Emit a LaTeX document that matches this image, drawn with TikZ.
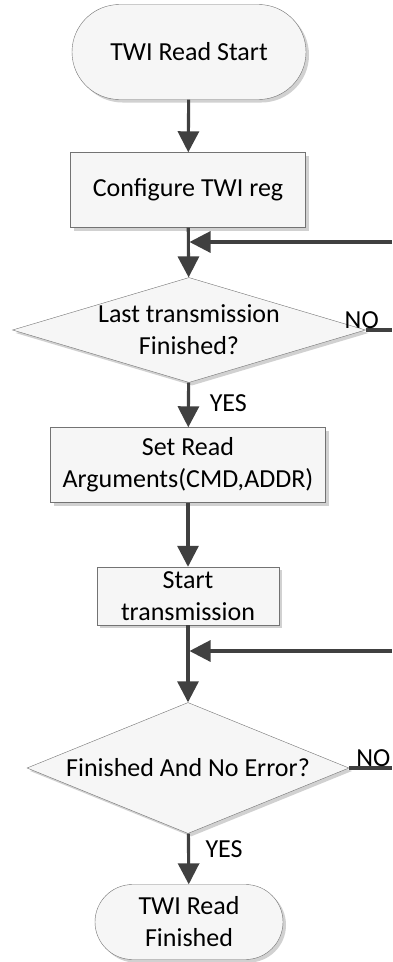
\documentclass[tikz,border=0pt]{standalone}
\usepackage{fontspec}
\setmainfont{Carlito}
\usetikzlibrary{shapes.geometric,shapes.misc,arrows.meta,shadows,calc}

\begin{document}
\begin{tikzpicture}[x=1pt, y=-1pt,
    chartbox/.style={draw=black!55, fill=gray!7, inner sep=0pt, align=center,
        font=\fontsize{26}{32}\selectfont,
        drop shadow={shadow xshift=3pt, shadow yshift=-3pt, fill=black!18, opacity=1}},
    term/.style={chartbox, rounded rectangle, minimum width=#1},
    proc/.style={chartbox, rectangle, minimum width=#1},
    cond/.style={chartbox, diamond, minimum width=#1},
    inside/.style={align=center, font=\fontsize{26}{32}\selectfont, inner sep=0pt},
    flow/.style={draw=black!75, line width=3.1pt, -{Triangle[length=21pt, width=21pt]}},
    link/.style={draw=black!75, line width=3.1pt},
    tag/.style={font=\fontsize{26}{30}\selectfont, inner sep=1pt}
]
\useasboundingbox (0,0) rectangle (392,962);
% boxes
\node[term=234pt, minimum height=95pt] (start) at (189,52) {TWI Read Start};
\node[proc=235pt, minimum height=75pt] (cfg) at (188,190) {Configure TWI reg};
\node[cond=353pt, minimum height=105pt,
      label={[inside]center:Last transmission\\Finished?}] (last) at (189,330) {};
\node[proc=275pt, minimum height=75pt] (args) at (188,465) {Set Read\\Arguments(CMD,ADDR)};
\node[proc=182pt, minimum height=58pt] (trans) at (188,596) {Start\\transmission};
\node[cond=322pt, minimum height=131pt,
      label={[inside]center:Finished And No Error?}] (check) at (188,768) {};
\node[term=188pt, minimum height=75pt] (done) at (189,922) {TWI Read\\Finished};
% loop ends at the right edge
\coordinate (edge) at (392,0);
\coordinate (back1) at (392,242);
\coordinate (back2) at (392,651);
% connectors
\draw[flow] (start) -- (cfg);
\draw[flow] (cfg) -- (last);
\draw[flow] (back1) -- ([xshift=1.5pt]back1 -| cfg.south);
\draw[link] (last.east) -- (last.east -| edge);
\draw[flow] (last) -- (args);
\draw[flow] (args) -- (trans);
\draw[flow] (trans.south) -- (trans.south |- check.north);
\draw[flow] (back2) -- ([xshift=1.5pt]back2 -| trans.south);
\draw[link] (check.east) -- (check.east -| edge);
\draw[flow] (check) -- (done);
% labels
\node[tag, anchor=south] (no1) at ([xshift=-4pt]last.east) {NO};
\node[tag, anchor=west] (yes1) at ([xshift=20pt]$(last.south)!0.45!(args.north)$) {YES};
\node[tag, anchor=south west] (no2) at ([xshift=6pt]check.east) {NO};
\node[tag, anchor=west] (yes2) at ([xshift=16pt]$(check.south)!0.3!(done.north)$) {YES};
\end{tikzpicture}
\end{document}
